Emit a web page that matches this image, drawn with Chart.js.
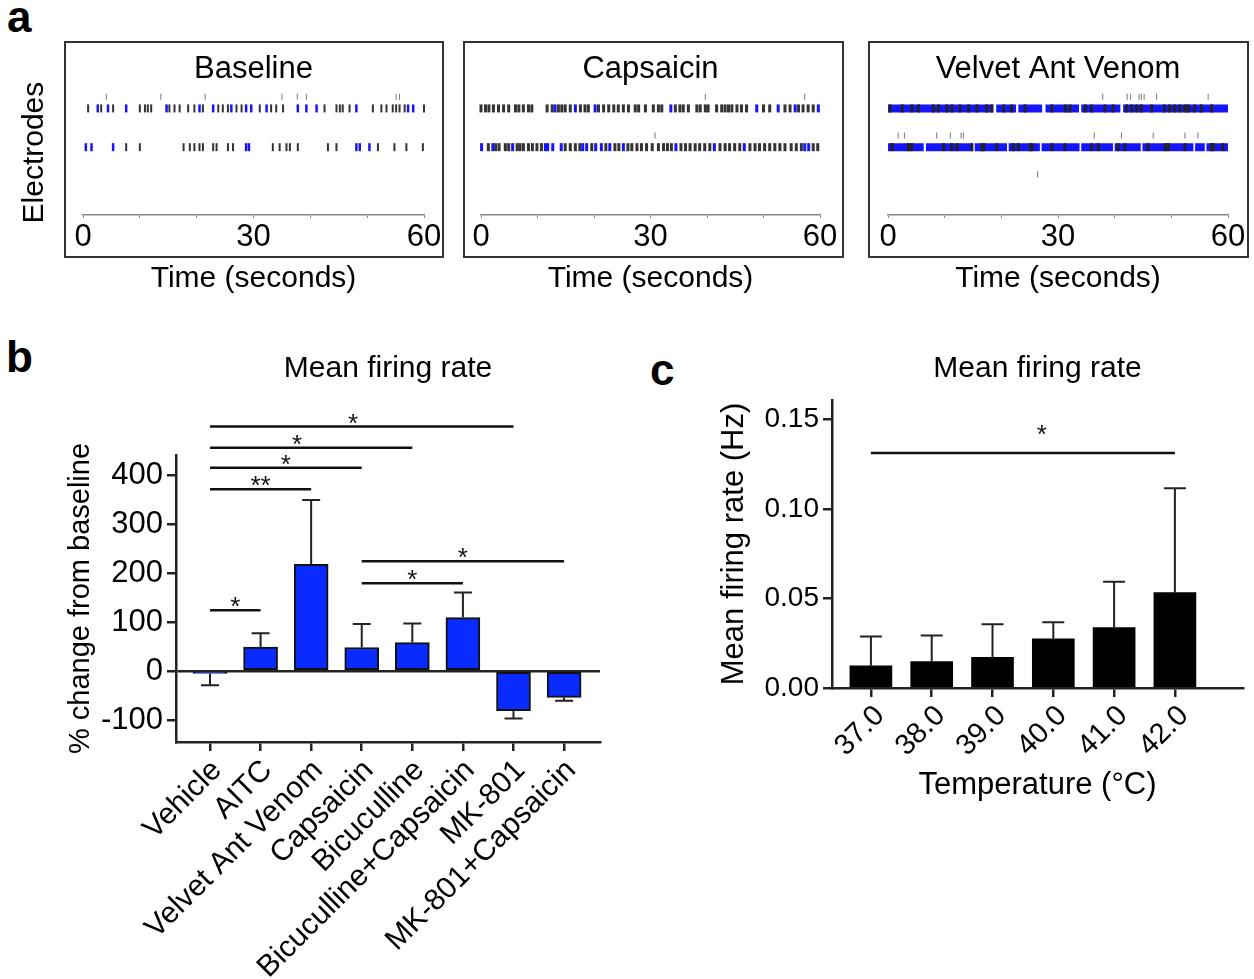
<!DOCTYPE html>
<html>
<head>
<meta charset="utf-8">
<script src="https://cdn.jsdelivr.net/npm/chart.js@4.4.0/dist/chart.umd.min.js"></script>
<style>
  body { margin: 0; background: #fff; width: 1254px; height: 979px; position: relative; overflow: hidden;
         font-family: "Liberation Sans", Arial, sans-serif; }
  canvas { position: absolute; }
  .box { position: absolute; border: 2px solid #333; box-sizing: border-box; }
  .letter { position: absolute; font-weight: bold; font-size: 44px; line-height: 1; color: #000; }
</style>
</head>
<body>
<div class="letter" style="left:7px;top:-5px">a</div>
<div class="letter" style="left:6px;top:335px">b</div>
<div class="letter" style="left:650px;top:348px">c</div>

<div class="box" style="left:64px;top:41px;width:380px;height:217px"></div>
<div class="box" style="left:463px;top:41px;width:381px;height:217px"></div>
<div class="box" style="left:868px;top:41px;width:381px;height:217px"></div>

<canvas id="rasterBase" width="450" height="260" style="left:0;top:41px"></canvas>
<canvas id="rasterCap" width="390" height="260" style="left:450px;top:41px"></canvas>
<canvas id="rasterVenom" width="404" height="260" style="left:850px;top:41px"></canvas>
<canvas id="chartB" width="620" height="649" style="left:0;top:330px"></canvas>
<canvas id="chartC" width="614" height="490" style="left:640px;top:330px"></canvas>

<script>
// ---- panel a: raster data (seconds) ----
const timeTicks = [0, 10, 20, 30, 40, 50, 60];
const timeLabels = [0, 30, 60];

// electrode rows (y level in the raster)
const rowA = 2.75, rowATop = 3.05, rowB = 1.75, rowBTop = 2.05, rowC = 1.05;

const baseAblack = [0.9, 3.2, 5.3, 10.0, 10.9, 11.4, 12.0, 15.2, 16.1, 17.0, 18.5, 19.6, 21.1, 23.8, 24.6, 25.5, 27.0, 27.9,
  31.1, 33.1, 34.0, 35.2, 42.5, 44.6, 45.2, 45.7, 46.9, 51.0, 52.5, 53.4, 54.5, 55.1, 55.7, 56.6, 60.0];
const baseAblue = [2.6, 4.4, 7.6, 14.7, 20.5, 22.9, 26.1, 28.7, 29.6, 32.3, 37.8, 39.3, 41.1, 48.1, 57.2, 58.1];
const baseAtop = [4.1, 13.7, 21.5, 35.0, 37.7, 39.3, 55.1, 55.7];
const baseBblack = [7.6, 10.0, 17.7, 18.8, 19.6, 20.5, 21.1, 22.9, 23.5, 25.5, 26.4, 33.4, 34.6, 35.8, 36.4, 37.8, 43.1,
  44.6, 51.9, 54.8, 56.9, 59.8];
const baseBblue = [0.5, 1.5, 5.3, 28.7, 29.2, 48.1, 48.7, 50.4];

const capAblack = [0.0, 0.8, 1.4, 2.2, 3.1, 4.0, 4.9, 6.1, 6.7, 7.5, 8.4, 9.0, 11.7, 12.6, 13.7, 14.3, 14.9, 15.8, 17.6,
  18.4, 19.0, 20.8, 21.7, 22.6, 23.5, 24.3, 25.2, 26.1, 27.3, 27.9, 29.1, 30.5, 31.4, 32.0, 34.4, 35.2, 35.8, 36.7, 38.2,
  38.8, 39.7, 40.2, 41.7, 42.6, 43.2, 43.8, 44.4, 45.3, 46.1, 47.0, 50.0, 51.1, 53.8, 54.7, 56.2, 57.0, 57.9, 58.8];
const capAblue = [13.1, 16.7, 20.2, 33.6, 48.8, 52.6, 55.6, 59.7];
const capAtop = [39.7, 57.3];
const capBblack = [1.3, 2.6, 3.2, 4.3, 4.9, 6.4, 6.9, 7.5, 8.4, 9.1, 9.9, 10.7, 14.9, 15.8, 16.7, 17.5, 19.6, 22.1, 23.7,
  24.4, 26.0, 26.7, 27.6, 28.4, 29.3, 30.3, 31.4, 32.3, 33.0, 33.7, 35.4, 36.2, 37.0, 37.9, 38.7, 39.6, 40.5, 42.3, 43.2,
  44.0, 44.9, 45.8, 47.6, 48.5, 49.3, 50.2, 51.1, 52.0, 52.9, 53.8, 54.9, 55.8, 56.7, 58.8, 59.6];
const capBblue = [0.1, 2.1, 5.6, 11.4, 11.8, 12.7, 14.2, 18.0, 18.7, 20.3, 21.3, 22.8, 25.2, 34.5, 41.3, 46.6, 57.3, 58.0];
const capBtop = [30.8];

const venAbursts = [[0, 18.6], [19.1, 22.6], [23.0, 27.2], [27.8, 33.7], [34.1, 41.0], [41.5, 60]];
const venAblack = [0.4, 2.5, 4.2, 5.4, 8.0, 8.9, 10.4, 11.3, 12.7, 14.2, 15.7, 17.4, 18.3, 20.4, 21.8, 24.2, 28.9, 31.3,
  32.1, 34.8, 35.9, 38.3, 39.7, 42.1, 43.0, 43.9, 44.7, 46.5, 48.8, 49.7, 50.6, 51.5, 52.4, 53.0, 54.1, 55.3, 57.1];
const venAtop = [37.9, 42.2, 42.8, 44.3, 44.7, 45.2, 47.4, 56.5];
const venBbursts = [[0, 6.3], [6.7, 15.0], [15.3, 21.0], [21.3, 26.8], [27.1, 33.8], [34.1, 39.7], [40.0, 44.6],
  [44.9, 53.9], [54.2, 55.9], [56.2, 60]];
const venBblack = [0.7, 3.6, 4.2, 9.8, 11.2, 12.2, 14.8, 16.6, 16.9, 19.2, 22.1, 23.0, 25.1, 25.4, 28.9, 31.2, 35.9, 37.1,
  40.6, 41.8, 45.9, 48.9, 49.5, 52.4, 57.1, 57.4, 59.1];
const venBtop = [1.8, 2.9, 8.6, 11.0, 12.9, 13.3, 36.4, 41.2, 46.8, 52.4, 54.7];
const venC = [26.4];

// ---- panel b ----
const drugs = ['Vehicle', 'AITC', 'Velvet Ant Venom', 'Capsaicin', 'Bicuculline', 'Bicuculline+Capsaicin', 'MK-801', 'MK-801+Capsaicin'];
const changeMean = [-5, 49, 218, 48, 58, 109, -81, -54];
const changeErr = [24, 28, 131, 48, 39, 51, 16, 7];
const changeTicks = [-100, 0, 100, 200, 300, 400];
// [from, to, level, text, star position]
const changeSig = [
  [0, 6, 499, '*', 2.83],
  [0, 4, 456, '*', 1.72],
  [0, 3, 415, '*', 1.5],
  [0, 2, 371, '**', 1.0],
  [0, 1, 124, '*', 0.5],
  [3, 7, 224, '*', 5.0],
  [3, 5, 179, '*', 4.0]
];

// ---- panel c ----
const temps = ['37.0', '38.0', '39.0', '40.0', '41.0', '42.0'];
const rateMean = [0.0124, 0.0148, 0.0171, 0.0275, 0.0338, 0.0533];
const rateErr = [0.0164, 0.0145, 0.0185, 0.0093, 0.0256, 0.0584];
const rateTicks = [0, 0.05, 0.10, 0.15];
const rateSig = [[0, 5, 0.1314, '*', 2.81]];

Chart.defaults.font.family = '"Liberation Sans", Arial, sans-serif';
Chart.defaults.color = '#000';

const BLUE = '#1414ff';
const INK = '#333';
const FAINT = '#777';

function tickSet(times, y, color, half, width) {
  return {
    type: 'scatter',
    data: times.map(t => ({ x: t, y: y })),
    pointStyle: 'line', pointRotation: 90,
    pointRadius: half, pointHoverRadius: half,
    pointBorderColor: color, pointBorderWidth: width,
    borderColor: color, backgroundColor: color,
    showLine: false, clip: false, order: 0
  };
}

function burstSet(bursts, y, color) {
  const pts = [];
  bursts.forEach(b => { pts.push({ x: b[0], y: y }, { x: b[1], y: y }, { x: b[1], y: null }); });
  return {
    type: 'line', data: pts, borderColor: color, borderWidth: 8, borderCapStyle: 'butt',
    pointRadius: 0, spanGaps: false, clip: false, order: 5
  };
}

function makeRaster(id, title, datasets, yWidth, padRight, yTitle) {
  new Chart(document.getElementById(id), {
    type: 'scatter',
    data: { datasets: datasets },
    options: {
      responsive: false, animation: false, events: [],
      layout: { padding: { right: padRight } },
      plugins: {
        legend: { display: false }, tooltip: { enabled: false },
        title: { display: true, text: title, fullSize: false, color: '#000',
                 font: { size: 31, weight: 'normal' }, padding: { top: 10, bottom: 2 } }
      },
      scales: {
        x: {
          type: 'linear', min: 0, max: 60,
          afterBuildTicks: s => { s.ticks = timeTicks.map(v => ({ value: v })); },
          afterFit: s => { s.height = 86; },
          ticks: { autoSkip: false, maxRotation: 0, font: { size: 31 }, color: '#000', padding: 1,
                   callback: v => timeLabels.includes(v) ? String(v) : '' },
          grid: { drawOnChartArea: false, tickLength: 3, tickColor: '#888', lineWidth: 1 },
          border: { color: '#888', width: 1.5 },
          title: { display: true, text: 'Time (seconds)', font: { size: 30 }, color: '#000', padding: { top: 0, bottom: 4 } }
        },
        y: {
          type: 'linear', min: 0, max: 3.22,
          afterFit: s => { s.width = yWidth; },
          ticks: { display: false }, grid: { display: false }, border: { display: false },
          title: { display: !!yTitle, text: yTitle || '', font: { size: 30 }, color: '#000', padding: { top: 17, bottom: 0 } }
        }
      }
    }
  });
}

makeRaster('rasterBase', 'Baseline', [
  tickSet(baseAblue, rowA, BLUE, 4, 2.5),
  tickSet(baseAblack, rowA, INK, 4, 2),
  tickSet(baseAtop, rowATop, FAINT, 3, 1),
  tickSet(baseBblue, rowB, BLUE, 4, 2.5),
  tickSet(baseBblack, rowB, INK, 4, 2)
], 83, 26, 'Electrodes');

makeRaster('rasterCap', 'Capsaicin', [
  tickSet(capAblue, rowA, BLUE, 4, 3),
  tickSet(capAblack, rowA, INK, 4, 3),
  tickSet(capAtop, rowATop, FAINT, 3, 1),
  tickSet(capBblue, rowB, BLUE, 4, 3),
  tickSet(capBblack, rowB, INK, 4, 3),
  tickSet(capBtop, rowBTop, FAINT, 3, 1)
], 31, 20, '');

makeRaster('rasterVenom', 'Velvet Ant Venom', [
  tickSet(venAblack, rowA, '#222', 4, 3),
  tickSet(venAtop, rowATop, FAINT, 3, 1),
  tickSet(venBblack, rowB, '#222', 4, 3),
  tickSet(venBtop, rowBTop, FAINT, 3, 1),
  tickSet(venC, rowC, FAINT, 3, 1),
  burstSet(venAbursts, rowA, BLUE),
  burstSet(venBbursts, rowB, BLUE)
], 38, 26, '');

// error bars drawn from the bar end, away from zero
function errorBarPlugin(means, errs, cap) {
  return {
    id: 'errorBars',
    afterDatasetsDraw(chart) {
      const ctx = chart.ctx, xs = chart.scales.x, ys = chart.scales.y;
      ctx.save();
      ctx.strokeStyle = '#222';
      ctx.lineWidth = 2;
      means.forEach((m, i) => {
        const dir = m < 0 ? -1 : 1;
        const x = xs.getPixelForValue(i);
        const y0 = ys.getPixelForValue(m);
        const y1 = ys.getPixelForValue(m + dir * errs[i]);
        ctx.beginPath();
        ctx.moveTo(x, y0); ctx.lineTo(x, y1);
        ctx.moveTo(x - cap / 2, y1); ctx.lineTo(x + cap / 2, y1);
        ctx.stroke();
      });
      ctx.restore();
    }
  };
}

// significance brackets
function sigPlugin(list, lift) {
  return {
    id: 'sigLines',
    afterDraw(chart) {
      const ctx = chart.ctx, xs = chart.scales.x, ys = chart.scales.y;
      ctx.save();
      ctx.strokeStyle = '#111';
      ctx.fillStyle = '#111';
      ctx.lineWidth = 2.5;
      ctx.font = '26px "Liberation Sans", Arial, sans-serif';
      ctx.textAlign = 'center';
      ctx.textBaseline = 'alphabetic';
      list.forEach(s => {
        const y = ys.getPixelForValue(s[2]);
        ctx.beginPath();
        ctx.moveTo(xs.getPixelForValue(s[0]), y);
        ctx.lineTo(xs.getPixelForValue(s[1]), y);
        ctx.stroke();
        ctx.fillText(s[3], xs.getPixelForValue(s[4]), y + lift);
      });
      ctx.restore();
    }
  };
}

new Chart(document.getElementById('chartB'), {
  type: 'bar',
  data: {
    datasets: [{
      data: changeMean.map((v, i) => ({ x: i, y: v })),
      backgroundColor: '#0a2bff', borderColor: '#111', borderWidth: 2,
      borderSkipped: false, barThickness: 34
    }]
  },
  options: {
    responsive: false, animation: false, events: [],
    layout: { padding: { right: 20 } },
    plugins: {
      legend: { display: false }, tooltip: { enabled: false },
      title: { display: true, text: 'Mean firing rate', fullSize: false, color: '#000',
               font: { size: 30, weight: 'normal' }, padding: { top: 21, bottom: 68 } }
    },
    scales: {
      x: {
        type: 'linear', min: -0.672, max: 7.71, offset: false,
        afterBuildTicks: s => { s.ticks = drugs.map((d, i) => ({ value: i })); },
        afterFit: s => { s.height = 237; },
        ticks: { autoSkip: false, maxRotation: 45, minRotation: 45, font: { size: 30 }, color: '#000', padding: 2,
                 labelOffset: 7, callback: v => drugs[v] },
        grid: { offset: false, drawOnChartArea: false, tickLength: 9, tickColor: '#222', lineWidth: 2.5 },
        border: { color: '#222', width: 2.5 }
      },
      y: {
        min: -145, max: 441,
        afterBuildTicks: s => { s.ticks = changeTicks.map(v => ({ value: v })); },
        afterFit: s => { s.width = 176; },
        ticks: { font: { size: 31 }, color: '#000', padding: 4, callback: v => String(v) },
        grid: { color: c => (c.tick && c.tick.value === 0) ? '#222' : 'rgba(0,0,0,0)',
                lineWidth: 2.5, tickColor: '#222', tickLength: 9 },
        border: { color: '#222', width: 2.5 },
        title: { display: true, text: '% change from baseline', font: { size: 29 }, color: '#000',
                 padding: { top: 64, bottom: 0 } }
      }
    }
  },
  plugins: [errorBarPlugin(changeMean, changeErr, 18), sigPlugin(changeSig, 5)]
});

new Chart(document.getElementById('chartC'), {
  type: 'bar',
  data: {
    datasets: [{
      data: rateMean.map((v, i) => ({ x: i, y: v })),
      backgroundColor: '#000', borderColor: '#000', borderWidth: 0, barThickness: 42
    }]
  },
  options: {
    responsive: false, animation: false, events: [],
    layout: { padding: { right: 11 } },
    plugins: {
      legend: { display: false }, tooltip: { enabled: false },
      title: { display: true, text: 'Mean firing rate', fullSize: false, color: '#000',
               font: { size: 30, weight: 'normal' }, padding: { top: 21, bottom: 13 } }
    },
    scales: {
      x: {
        type: 'linear', min: -0.64, max: 6.12, offset: false,
        afterBuildTicks: s => { s.ticks = temps.map((t, i) => ({ value: i })); },
        afterFit: s => { s.height = 132; },
        ticks: { autoSkip: false, maxRotation: 45, minRotation: 45, font: { size: 29 }, color: '#000', padding: 2,
                 labelOffset: 9, callback: v => temps[v] },
        grid: { offset: false, drawOnChartArea: false, tickLength: 9, tickColor: '#222', lineWidth: 2.5 },
        border: { color: '#222', width: 2.5 },
        title: { display: true, text: 'Temperature (°C)', font: { size: 31 }, color: '#000',
                 padding: { top: 0, bottom: 16 } }
      },
      y: {
        min: 0, max: 0.161,
        afterBuildTicks: s => { s.ticks = rateTicks.map(v => ({ value: v })); },
        afterFit: s => { s.width = 192; },
        ticks: { font: { size: 28 }, color: '#000', padding: 4, callback: v => v.toFixed(2) },
        grid: { drawOnChartArea: false, tickLength: 9, tickColor: '#222', lineWidth: 2.5 },
        border: { color: '#222', width: 2.5 },
        title: { display: true, text: 'Mean firing rate (Hz)', font: { size: 31 }, color: '#000',
                 padding: { top: 76, bottom: 0 } }
      }
    }
  },
  plugins: [errorBarPlugin(rateMean, rateErr, 22), sigPlugin(rateSig, -10)]
});
</script>
</body>
</html>
